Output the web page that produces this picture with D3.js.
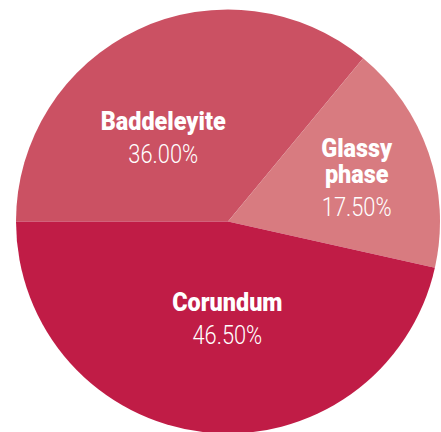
<!DOCTYPE html>
<html>
<head>
<meta charset="utf-8">
<script src="https://cdn.jsdelivr.net/npm/d3@7"></script>
<style>
html,body{margin:0;padding:0;background:#fff;}
svg{display:block;}
</style>
</head>
<body>
<script>
const categories = ["Baddeleyite", "Glassy phase", "Corundum"];
const values = [36.0, 17.5, 46.5];
const labelLines = [["Baddeleyite"], ["Glassy", "phase"], ["Corundum"]];
const percentLabels = ["36.00%", "17.50%", "46.50%"];
const colors = ["#cb5163", "#d87b80", "#c01c46"];

const W = 441, H = 432;
const cx = 228, cy = 221.5, R = 212;

// label placement (distance from centre along slice mid-angle, plus nudge)
const labelDist = [104, 136, 97];
const labelNudge = [[-20.5, 9.5], [0, 0], [10, 0]];

const svg = d3.select("body").append("svg").attr("width", W).attr("height", H);
const g = svg.append("g").attr("transform", `translate(${cx},${cy})`);

const data = categories.map((c, i) => ({cat: c, value: values[i], lines: labelLines[i], pct: percentLabels[i], color: colors[i]}));
const pie = d3.pie().sort(null).value(d => d.value).startAngle(-Math.PI / 2).endAngle(1.5 * Math.PI);
const arc = d3.arc().innerRadius(0).outerRadius(R);
const arcs = pie(data);

g.selectAll("path.slice").data(arcs).join("path")
  .attr("class", "slice")
  .attr("d", arc)
  .attr("fill", d => d.data.color);

const font = "Roboto, 'DejaVu Sans', sans-serif";
const capH = 19, nameGap = 26, pctGap = 33;
arcs.forEach((a, i) => {
  const la = d3.arc().innerRadius(0).outerRadius(labelDist[i] * 2);
  let [lx, ly] = la.centroid(a);
  lx += labelNudge[i][0];
  ly += labelNudge[i][1];
  const n = a.data.lines.length;
  const blockH = capH + (n - 1) * nameGap + pctGap;
  const firstBase = ly - blockH / 2 + capH;
  const lg = g.append("g").attr("transform", `translate(${lx},0)`);
  a.data.lines.forEach((ln, j) => {
    lg.append("text")
      .attr("text-anchor", "middle")
      .attr("fill", "#fff")
      .attr("font-family", font)
      .attr("font-weight", 900)
      .attr("font-size", 26)
      .attr("transform", `translate(0,${firstBase + j * nameGap}) scale(0.9,1)`)
      .text(ln);
  });
  lg.append("text")
    .attr("text-anchor", "middle")
    .attr("fill", "#fff")
    .attr("font-family", font)
    .attr("font-weight", 300)
    .attr("font-size", 26)
    .attr("transform", `translate(0,${firstBase + (n - 1) * nameGap + pctGap}) scale(0.84,1)`)
    .text(a.data.pct);
});
</script>
</body>
</html>
